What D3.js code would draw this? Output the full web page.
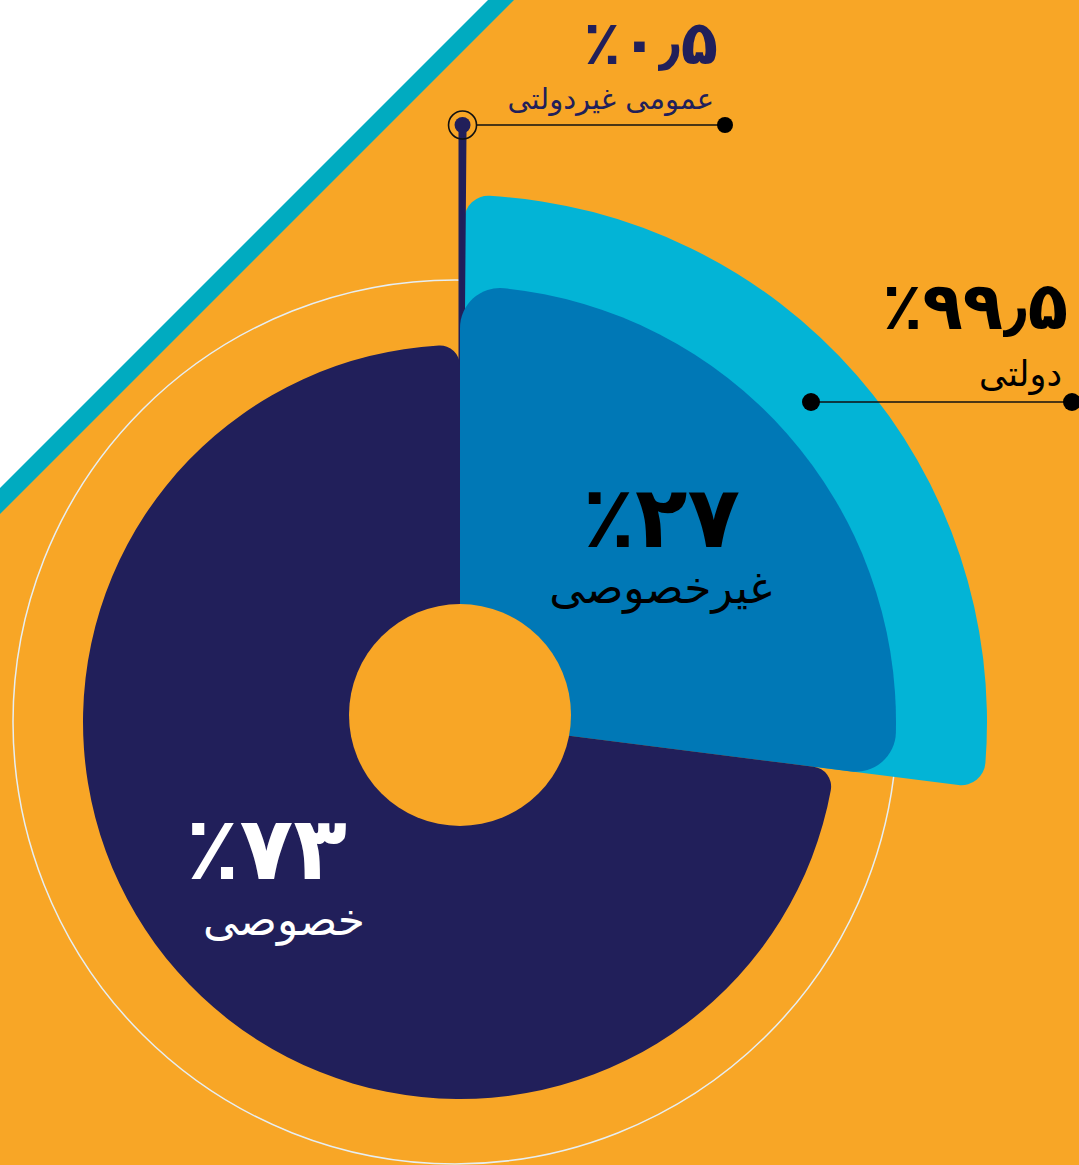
<!DOCTYPE html>
<html><head><meta charset="utf-8">
<script src="https://cdn.jsdelivr.net/npm/d3@7"></script>
<style>
html,body{margin:0;padding:0;background:#F8A626;}
svg{display:block;}
text{font-family:"DejaVu Sans",sans-serif;}
.num{unicode-bidi:bidi-override;direction:ltr;font-weight:bold;}
</style></head>
<body>
<script>
// ---- data ----
const categories = ["غیرخصوصی", "خصوصی"];
const shares = [27, 73];
const shareLabels = ["٪۲۷", "٪۷۳"];
const subCategories = ["عمومی غیردولتی", "دولتی"];
const subShares = [0.5, 99.5];
const subLabels = ["٪۰٫۵", "٪۹۹٫۵"];

const W = 1079, H = 1165;
const C = {orange:"#F8A626", navy:"#211F5A", blue:"#0078B6", cyan:"#03B4D6", teal:"#00ABC0"};
const svg = d3.select("body").append("svg").attr("width", W).attr("height", H);

// background
svg.append("rect").attr("width", W).attr("height", H).attr("fill", C.orange);
svg.append("path").attr("d", `M0,0 L514,0 L0,514 Z`).attr("fill", C.teal);
svg.append("path").attr("d", `M0,0 L488,0 L0,488 Z`).attr("fill", "#FFFFFF");

const cx = 460, cy = 722;

// thin guide circle
svg.append("circle").attr("cx", 455).attr("cy", 722).attr("r", 442)
  .attr("fill", "none").attr("stroke", "#E6EEF2").attr("stroke-width", 1.5);

const pie = d3.pie().sort(null).value(d => d).startAngle(0).endAngle(2 * Math.PI);
const main = pie(shares);
const nonPriv = main[0], priv = main[1];

const subPie = d3.pie().sort(null).value(d => d).startAngle(nonPriv.startAngle).endAngle(nonPriv.endAngle);
const sub = subPie(subShares);

const gg = svg.append("g").attr("transform", `translate(${cx},${cy})`);

// outer ring: دولتی (cyan)
gg.append("path").attr("d", d3.arc().innerRadius(0).outerRadius(527).cornerRadius(24)(sub[1])).attr("fill", C.cyan);
// outer ring: عمومی غیردولتی (navy sliver)
const slR = cy - 125;
gg.append("path").attr("d", d3.arc().innerRadius(0).outerRadius(slR)(sub[0]))
  .attr("fill", C.navy).attr("stroke", C.navy).attr("stroke-width", 3);
// غیرخصوصی
gg.append("path").attr("d", d3.arc().innerRadius(0).outerRadius(436).cornerRadius(40)(nonPriv)).attr("fill", C.blue);
// خصوصی
gg.append("path").attr("d", d3.arc().innerRadius(0).outerRadius(377).cornerRadius(20)(priv)).attr("fill", C.navy);

// hole
svg.append("circle").attr("cx", 460).attr("cy", 715).attr("r", 111).attr("fill", C.orange);

// sliver marker + leader
const mAng = (sub[0].startAngle + sub[0].endAngle) / 2;
const mx = cx + Math.sin(mAng) * slR, my = cy - Math.cos(mAng) * slR;
svg.append("circle").attr("cx", mx).attr("cy", my).attr("r", 8).attr("fill", C.navy);
svg.append("circle").attr("cx", mx).attr("cy", my).attr("r", 14).attr("fill", "none").attr("stroke", "#111").attr("stroke-width", 1.6);
svg.append("line").attr("x1", mx + 14).attr("y1", my).attr("x2", 725).attr("y2", my).attr("stroke", "#111").attr("stroke-width", 1.6);
svg.append("circle").attr("cx", 725).attr("cy", my).attr("r", 8).attr("fill", "#000");

svg.append("text").attr("class", "num").attr("x", 718).attr("y", 64).attr("text-anchor", "end")
  .attr("font-size", 61).attr("fill", C.navy).text(subLabels[0]);
svg.append("text").attr("x", 714).attr("y", 109).attr("text-anchor", "end")
  .attr("font-size", 29).attr("fill", C.navy).text(subCategories[0]);

// دولتی leader
svg.append("line").attr("x1", 811).attr("y1", 402).attr("x2", 1072).attr("y2", 402).attr("stroke", "#111").attr("stroke-width", 1.6);
svg.append("circle").attr("cx", 811).attr("cy", 402).attr("r", 9).attr("fill", "#000");
svg.append("circle").attr("cx", 1072).attr("cy", 402).attr("r", 9).attr("fill", "#000");
svg.append("text").attr("class", "num").attr("x", 1068).attr("y", 329).attr("text-anchor", "end")
  .attr("font-size", 66).attr("fill", "#000").text(subLabels[1]);
svg.append("text").attr("x", 1062).attr("y", 386).attr("text-anchor", "end")
  .attr("font-size", 35).attr("fill", "#000").text(subCategories[1]);

// inner labels
svg.append("text").attr("class", "num").attr("x", 740).attr("y", 547).attr("text-anchor", "end")
  .attr("font-size", 86).attr("fill", "#000").text(shareLabels[0]);
svg.append("text").attr("x", 772).attr("y", 603).attr("text-anchor", "end")
  .attr("font-size", 44).attr("fill", "#000").text(categories[0]);
svg.append("text").attr("class", "num").attr("x", 347).attr("y", 879).attr("text-anchor", "end")
  .attr("font-size", 88).attr("fill", "#fff").text(shareLabels[1]);
svg.append("text").attr("x", 365).attr("y", 935).attr("text-anchor", "end")
  .attr("font-size", 44).attr("fill", "#fff").text(categories[1]);
</script>
</body></html>
